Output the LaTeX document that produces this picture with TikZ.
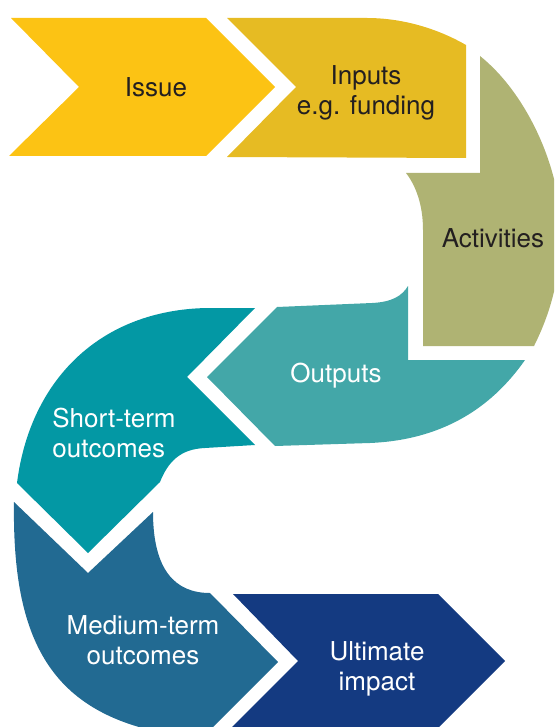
\documentclass[tikz,border=0pt]{standalone}
\usepackage{fontspec}
\setmainfont{TeX Gyre Heros}
\usepackage{xcolor}
\usepackage{tikz}
\usetikzlibrary{positioning}

\definecolor{issuecol}{HTML}{FCC314}
\definecolor{inputcol}{HTML}{E6BB23}
\definecolor{activcol}{HTML}{AFB373}
\definecolor{outputcol}{HTML}{43A7A8}
\definecolor{shortcol}{HTML}{0398A4}
\definecolor{mediumcol}{HTML}{226A92}
\definecolor{impactcol}{HTML}{143A81}
\definecolor{textdark}{HTML}{231F20}

\begin{document}
\begin{tikzpicture}[
    x=1pt, y=-1pt,
    stagetext/.style={font=\fontsize{26}{30}\selectfont, align=center, inner sep=0pt},
    darktext/.style={stagetext, text=textdark},
    lighttext/.style={stagetext, text=white}
]

\useasboundingbox (0,0) rectangle (554,727);
\clip (0,0) rectangle (554,727);

% Top row: issue and inputs
\fill [issuecol] (11,18) -- (206,18) -- (275,87) -- (206,156) -- (9,156) -- (79,87) -- cycle;
\fill [inputcol] (227,18) -- (367,18) .. controls (405,18) and (440,30) .. (466,45)
    -- (466,158) -- (227,157) -- (296,87) -- cycle;

% Activities turning down
\fill [activcol] (480,56) .. controls (525,92) and (556,160) .. (560,215)
    .. controls (563,270) and (552,310) .. (534,346) -- (423,346) -- (423,230)
    .. controls (423,205) and (416,186) .. (406,173) -- (480,173) -- cycle;

% Outputs going back left
\fill [outputcol] (277,307) -- (372,303) .. controls (392,302) and (402,296) .. (408,286)
    -- (408,360) -- (525,360) .. controls (490,410) and (440,440) .. (370,443)
    -- (275,446) -- (207,377) -- cycle;

% Short-term outcomes turning down
\fill [shortcol] (255,308) -- (207,308) .. controls (100,310) and (30,380) .. (17,483)
    -- (88,553) -- (160,482) .. controls (168,462) and (180,449) .. (205,448)
    -- (255,445) -- (187,377) -- cycle;

% Medium-term outcomes turning right
\fill [mediumcol] (14,502) -- (88,573) -- (153,512) .. controls (153,570) and (175,593) .. (210,593)
    -- (278,662) -- (205,735) -- (175,735) .. controls (50,715) and (12,640) .. (14,502) -- cycle;

% Ultimate impact
\fill [impactcol] (233,594) -- (438,594) -- (505,661) -- (431,735) -- (224,735) -- (298,661) -- cycle;

% Labels
\node [darktext] (issue) at (156,87) {Issue};
\node [darktext] (inputs) at (366,93) {Inputs\\e.g. funding};
\node [darktext] (activities) at (493,238) {Activities};
\node [lighttext] (outputs) at (336,376) {Outputs};
\node [lighttext, align=left] (short) at (114,433) {Short-term\\outcomes};
\node [lighttext] (medium) at (143,640) {Medium-term\\outcomes};
\node [lighttext] (impact) at (377,669) {Ultimate\\impact};

\end{tikzpicture}
\end{document}
